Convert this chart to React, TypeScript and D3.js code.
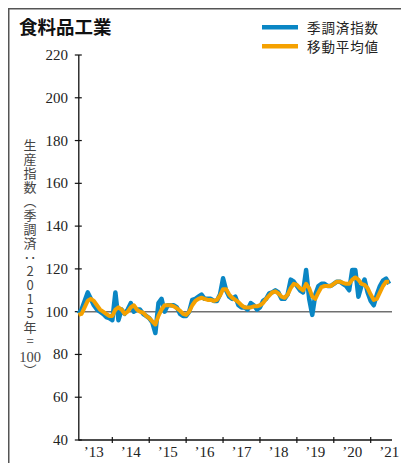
import React from "react";
import * as d3 from "d3";

const yTicks = [40, 60, 80, 100, 120, 140, 160, 180, 200, 220];
const yearLabels = ["’13", "’14", "’15", "’16", "’17", "’18", "’19", "’20", "’21"];
const years = [2013, 2014, 2015, 2016, 2017, 2018, 2019, 2020, 2021];
const startYear = 2013;

// Seasonally adjusted index, monthly from Jan 2013
const seasonal = [
  99, 101, 105, 109, 106, 103, 101, 100, 99, 97.5, 97, 96,
  109, 96, 101, 99, 101, 104, 100, 101, 101, 99, 98, 97,
  95, 90, 104, 106, 100, 103, 103, 103, 102, 99, 98, 98,
  100, 105.5, 106, 107, 108, 106, 106, 106, 105, 105, 108, 115.6,
  110, 107, 106, 107, 103, 102, 102, 101, 104, 103, 101, 102,
  105, 106, 108.5, 109, 110, 109, 106, 106, 108, 115, 114, 112,
  110, 109, 119.5, 106, 98.5, 108, 112, 113, 113, 112, 112, 113,
  114, 114, 113, 112, 110, 119.5, 119.5, 107, 112, 115, 109, 105,
  103, 108, 112, 114.5, 115.5, 113,
];

// Moving average
const movingAvg = [
  98.5, 99, 102, 105, 106, 105, 103, 101, 100, 99, 98, 98,
  101, 102, 101, 99, 100, 102, 103, 101, 100, 99.5, 98, 97,
  95.5, 94, 98, 101, 103, 103, 103, 102.5, 101.5, 100.5, 99, 98.5,
  100, 103, 105, 106, 106.5, 106, 105.5, 105.5, 105, 105.5, 107.5, 110.5,
  110.5, 108, 106.5, 105.5, 104.5, 103, 102, 102, 102, 102.5, 102.5, 103,
  104, 106, 107.5, 109, 109.5, 108.5, 107, 106.5, 108, 111, 113, 112.5,
  111, 110, 113, 111, 107, 106, 109, 111.5, 112, 112, 112, 113,
  114, 114, 113.5, 113, 113, 115, 116, 115, 113, 112.5, 111, 108,
  105.5, 106, 109, 112, 114, 114,
];

const legendLabels = ["季調済指数", "移動平均値"];
const yTitleVertical = "生産指数（季調済：2015年=";
const yTitleBase = "100";
const yTitleClose = "）";

export default function App() {
  const W = 401;
  const H = 463;
  const x = d3.scaleLinear().domain([2013, 2021]).range([75.4, 370.7]);
  const y = d3.scaleLinear().domain([40, 220]).range([440, 55]);
  const axisX0 = 78.8;
  const axisX1 = 392;
  const tOf = (i: number) => startYear + (i + 1) / 12;

  const line = d3
    .line<number>()
    .x((_, i) => x(tOf(i)))
    .y((d) => y(d))
    .curve(d3.curveLinear);

  const serif = "'Liberation Serif', 'DejaVu Serif', serif";
  const cjk = "'Noto Sans CJK JP', 'Noto Sans', sans-serif";
  const vertStyle: React.CSSProperties = {
    writingMode: "vertical-rl",
    textOrientation: "upright",
  } as React.CSSProperties;
  const colors = ["#0a86c4", "#f5a100"];
  const legendY = [27.3, 46.3];

  return (
    <svg
      width={W}
      height={H}
      style={{ display: "block", position: "absolute", left: 0, top: 0 }}
    >
      <rect x={8.75} y={8.75} width={420} height={480} fill="#fff" stroke="#555" strokeWidth={1.5} />
      <text x={19} y={34} fontFamily={cjk} fontWeight={700} fontSize={18.5} fill="#111">
        食料品工業
      </text>
      {/* legend */}
      {legendLabels.map((lab, i) => (
        <g key={lab}>
          <line x1={262} x2={298} y1={legendY[i]} y2={legendY[i]} stroke={colors[i]} strokeWidth={4.5} />
          <text
            x={307}
            y={legendY[i]}
            dominantBaseline="central"
            fontFamily={cjk}
            fontSize={13.5}
            letterSpacing={0.9}
            fill="#222"
          >
            {lab}
          </text>
        </g>
      ))}

      {/* vertical y-axis title */}
      <text x={30} y={139} style={vertStyle} fontFamily={cjk} fontSize={13} letterSpacing={1} fill="#444">
        {yTitleVertical}
      </text>
      <text x={30} y={357} textAnchor="middle" dominantBaseline="central" fontFamily={serif} fontSize={14.5} fill="#444">
        {yTitleBase}
      </text>
      <text x={30} y={364} style={vertStyle} fontFamily={cjk} fontSize={13} fill="#444">
        {yTitleClose}
      </text>

      <line x1={axisX0} x2={axisX0} y1={y(220)} y2={y(40) + 0.5} stroke="#111" strokeWidth={1.3} />
      <line x1={axisX0} x2={axisX1} y1={y(40)} y2={y(40)} stroke="#111" strokeWidth={1.3} />
      {yTicks.map((t) => (
        <g key={t}>
          <line x1={axisX0 - 4} x2={axisX0 + 3} y1={y(t)} y2={y(t)} stroke="#111" strokeWidth={1.2} />
          <text
            x={68}
            y={y(t)}
            textAnchor="end"
            dominantBaseline="central"
            fontFamily={serif}
            fontSize={15}
            fill="#222"
          >
            {t}
          </text>
        </g>
      ))}
      {years.slice(1).map((yr) => (
        <line key={yr} x1={x(yr)} x2={x(yr)} y1={y(40) - 3} y2={y(40) + 3} stroke="#111" strokeWidth={1.2} />
      ))}
      {years.map((yr, i) => (
        <text
          key={yr}
          x={Math.min(x(yr + 0.5), 391)}
          y={457}
          textAnchor="middle"
          fontFamily={serif}
          fontSize={15}
          fill="#222"
        >
          {yearLabels[i]}
        </text>
      ))}

      <line x1={axisX0} x2={axisX1} y1={y(100)} y2={y(100)} stroke="#707070" strokeWidth={1.5} />

      <path d={line(seasonal) || ""} fill="none" stroke={colors[0]} strokeWidth={4.5} strokeLinejoin="round" />
      <path d={line(movingAvg) || ""} fill="none" stroke={colors[1]} strokeWidth={4} strokeLinejoin="round" />
    </svg>
  );
}
